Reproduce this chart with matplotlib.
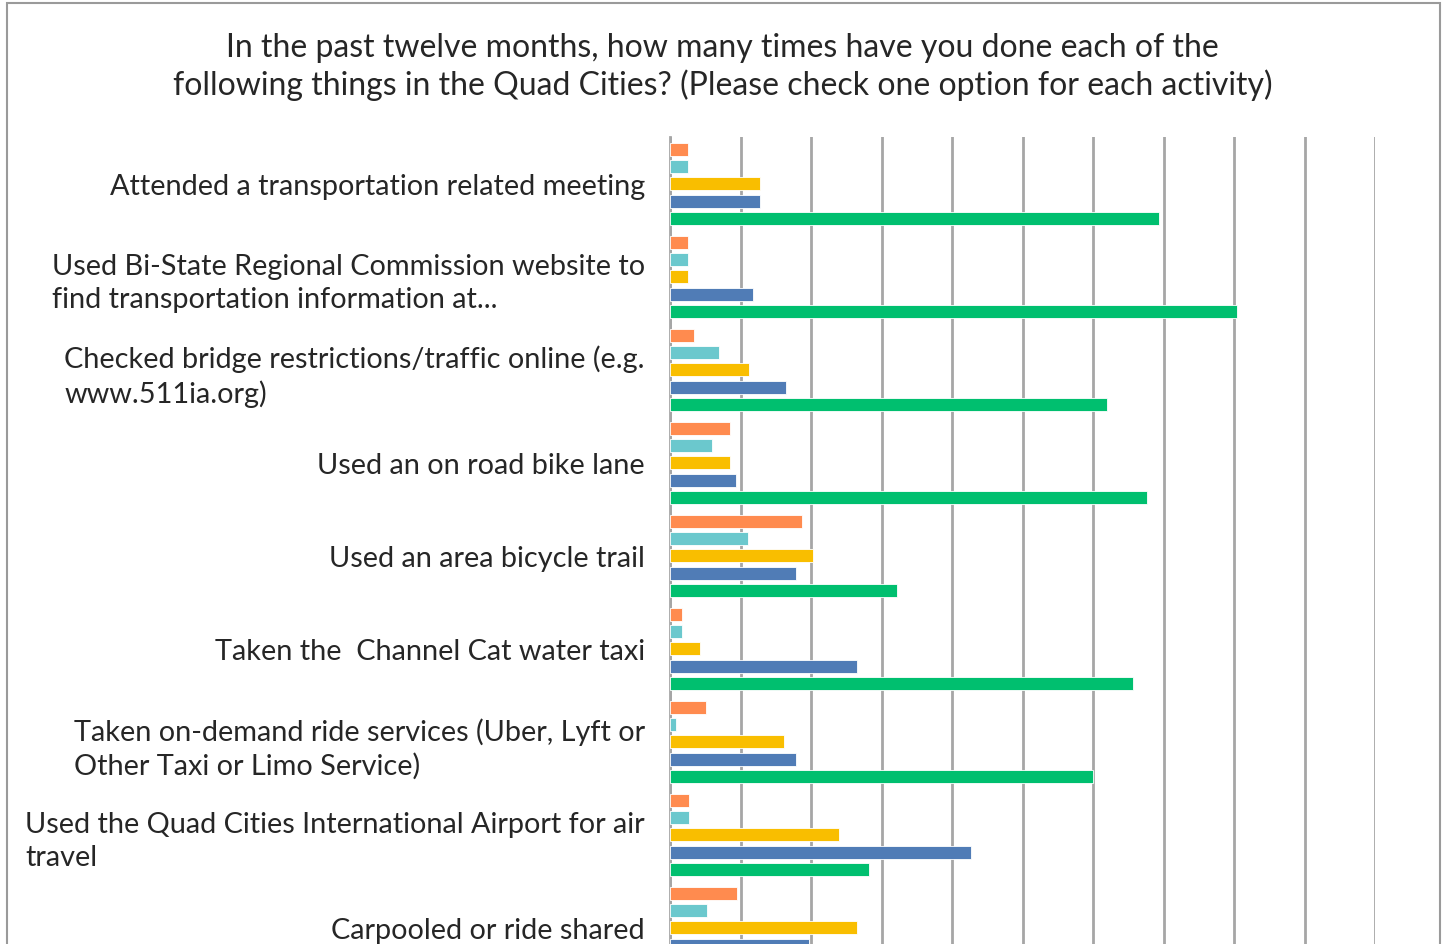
import numpy as np
import matplotlib.pyplot as plt
from matplotlib.patches import Rectangle

plt.rcParams['font.family'] = ['Lato', 'DejaVu Sans']

# categories, top to bottom
categories = [
    "Attended a transportation related meeting",
    "Used Bi-State Regional Commission website to\nfind transportation information at...",
    "Checked bridge restrictions/traffic online (e.g.\nwww.511ia.org)",
    "Used an on road bike lane",
    "Used an area bicycle trail",
    "Taken the  Channel Cat water taxi",
    "Taken on-demand ride services (Uber, Lyft or\nOther Taxi or Limo Service)",
    "Used the Quad Cities International Airport for air\ntravel",
    "Carpooled or ride shared",
]

# percent of respondents, one list per series (top bar to bottom bar in each group)
s_orange = [2.6, 2.6, 3.4, 8.5, 18.7, 1.7, 5.1, 2.7, 9.5]
s_teal   = [2.6, 2.6, 7.0, 6.0, 11.1, 1.7, 0.9, 2.7, 5.2]
s_yellow = [12.8, 2.6, 11.2, 8.5, 20.3, 4.3, 16.2, 24.0, 26.5]
s_blue   = [12.8, 11.8, 16.5, 9.4, 17.9, 26.5, 17.9, 42.7, 19.7]
s_green  = [69.4, 80.4, 62.0, 67.7, 32.2, 65.7, 60.0, 28.2, 55.0]

series = [s_orange, s_teal, s_yellow, s_blue, s_green]
colors = ['#FF8B4F', '#6BC8CD', '#F9BE00', '#507CB6', '#00BF6F']

W, H = 1445, 945
fig = plt.figure(figsize=(W / 100, H / 100), dpi=100)

# outer chart border
fig.patches.append(Rectangle((7 / W, -0.05), (1440 - 7) / W, 1.05 - 4 / H,
                             transform=fig.transFigure, fill=False,
                             edgecolor='#9a9a9a', linewidth=1.5))

fig.text(0.5, 1 - 48 / H,
         "In the past twelve months, how many times have you done each of the",
         ha='center', va='center', fontsize=23, color='#262626')
fig.text(0.5, 1 - 85 / H,
         "following things in the Quad Cities? (Please check one option for each activity)",
         ha='center', va='center', fontsize=23, color='#262626')

n = len(categories)
top_pad = 0.505
ax_top = 138
ax_h_px = (n - 0.5 + top_pad) * 93
ax = fig.add_axes([670 / W, 1 - (ax_top + ax_h_px) / H, (1375 - 670) / W, ax_h_px / H])

y = np.arange(n)
step = 0.1855
for j, (vals, c) in enumerate(zip(series, colors)):
    ax.barh(y + (j - 2) * step, vals, height=0.14, color=c,
            edgecolor='white', linewidth=0.6, zorder=3)

ax.set_xlim(0, 100)
ax.set_ylim(n - 0.5, -top_pad)
ax.set_xticks(np.arange(0, 101, 10))
ax.xaxis.grid(True, color='#a6a6a6', linewidth=2, zorder=0)
ax.tick_params(axis='x', length=0, labelbottom=False)
ax.set_yticks(y)
ax.set_yticklabels(categories, fontsize=20.8, color='#262626',
                   multialignment='left', linespacing=1.3)
ax.tick_params(axis='y', length=0, pad=18)

for s in ['top', 'right', 'bottom']:
    ax.spines[s].set_visible(False)
ax.spines['left'].set_color('#a6a6a6')
ax.spines['left'].set_linewidth(2)

fig.savefig('out.png', dpi=100)
